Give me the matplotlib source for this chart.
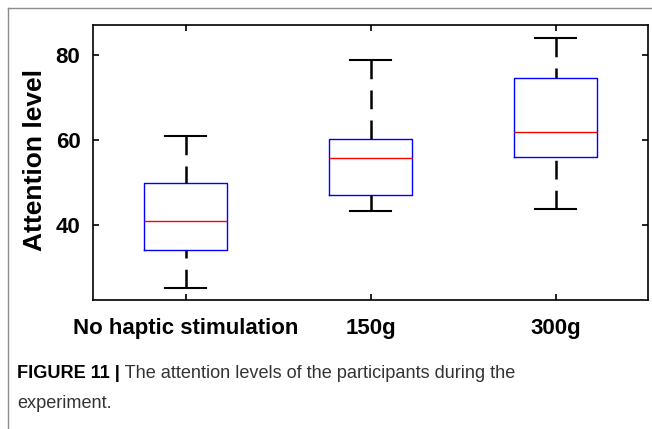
import matplotlib
matplotlib.use("Agg")
import matplotlib.pyplot as plt
from matplotlib.lines import Line2D

# Data
groups = ['No haptic stimulation', '150g', '300g']
whislo = [25.2, 43.3, 43.7]
q1 = [34.1, 47.1, 56.0]
med = [41.0, 55.9, 62.0]
q3 = [49.9, 60.2, 74.6]
whishi = [60.9, 78.8, 84.0]
yticks = [40, 60, 80]

plt.rcParams['font.family'] = ['Liberation Sans', 'DejaVu Sans']

fig = plt.figure(figsize=(6.52, 4.29), dpi=100)
ax = fig.add_axes([93 / 652, 1 - 300 / 429, 555 / 652, 275 / 429])

stats = []
for g, lo, a, m, b, hi in zip(groups, whislo, q1, med, q3, whishi):
    stats.append(dict(label=g, whislo=lo, q1=a, med=m, q3=b, whishi=hi, fliers=[]))

bp = ax.bxp(stats, positions=[1, 2, 3], widths=0.45, capwidths=0.22,
            showfliers=False,
            boxprops=dict(color='blue', lw=1.0),
            medianprops=dict(color='red', lw=1.0),
            whiskerprops=dict(color='black', lw=1.8, linestyle=(0, (7.5, 4.5))),
            capprops=dict(color='black', lw=1.5))
# MATLAB starts the dash pattern at the cap
for w in bp['whiskers']:
    xs, ys = w.get_data()
    w.set_data(xs[::-1], ys[::-1])

ax.set_xlim(0.5, 3.5)
ax.set_ylim(22.4, 87.1)
ax.set_yticks(yticks)
ax.set_xticks([1, 2, 3])
ax.set_xticklabels(groups)
ax.tick_params(direction='in', length=4, width=1.2, top=True, right=True,
               labelsize=16, pad=9)
ax.tick_params(axis='x', pad=13)
for lab in ax.get_xticklabels() + ax.get_yticklabels():
    lab.set_fontweight('bold')
for s in ax.spines.values():
    s.set_linewidth(1.2)

fig.text(35 / 652, 1 - 160 / 429, 'Attention level', rotation=90,
         ha='center', va='center', fontsize=19, fontweight='bold')

# caption
t1 = fig.text(17 / 652, 1 - 373 / 429, 'FIGURE 11 |', fontsize=13.1,
              fontweight='bold', va='center', ha='left')
ax.annotate(' The attention levels of the participants during the',
            xy=(1, 0.5), xycoords=t1, va='center', ha='left',
            fontsize=13.1, color='#333333', annotation_clip=False)
fig.text(17 / 652, 1 - 404 / 429, 'experiment.', fontsize=13.1,
         color='#333333', va='center', ha='left')

# frame lines at top and left of the page
fig.add_artist(Line2D([8 / 652, 1], [1 - 8 / 429, 1 - 8 / 429],
                      transform=fig.transFigure, color='#8c8c8c', lw=1))
fig.add_artist(Line2D([8 / 652, 8 / 652], [0, 1 - 8 / 429],
                      transform=fig.transFigure, color='#8c8c8c', lw=1))

fig.savefig('out.png', dpi=100)
